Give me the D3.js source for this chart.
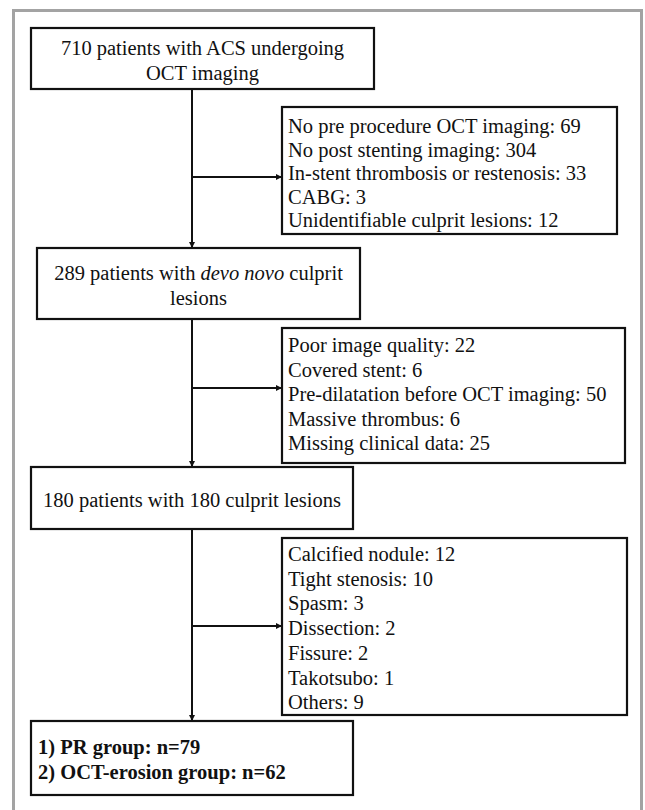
<!DOCTYPE html>
<html>
<head>
  <title>Study flowchart</title>
  <style>
    body {
      margin: 0;
      background: #fff;
    }
  </style>
</head>
<body>
  <div id="chart"></div>

  <script src="https://d3js.org/d3.v7.min.js"></script>
  <script>
    // Flow stages (each line is a list of [text, italic] pieces)
    const stageLines = [
      [[["710 patients with ACS undergoing", false]], [["OCT imaging", false]]],
      [[["289 patients with ", false], ["devo novo", true], [" culprit", false]], [["lesions", false]]],
      [[["180 patients with 180 culprit lesions", false]]]
    ];

    // Exclusions at each step
    const exclusion1Reasons = ["No pre procedure OCT imaging", "No post stenting imaging",
      "In-stent thrombosis or restenosis", "CABG: ", "Unidentifiable culprit lesions"];
    const exclusion1Counts = [69, 304, 33, 3, 12];

    const exclusion2Reasons = ["Poor image quality", "Covered stent",
      "Pre-dilatation before OCT imaging", "Massive thrombus", "Missing clinical data"];
    const exclusion2Counts = [22, 6, 50, 6, 25];

    const exclusion3Reasons = ["Calcified nodule", "Tight stenosis", "Spasm", "Dissection",
      "Fissure", "Takotsubo", "Others"];
    const exclusion3Counts = [12, 10, 3, 2, 2, 1, 9];

    // Final groups
    const groupNames = ["PR group", "OCT-erosion group"];
    const groupCounts = [79, 62];

    const width = 645;
    const height = 810;
    const FONT = "Liberation Serif";
    const SIZE = 20.5;

    const svg = d3.select("#chart")
      .append("svg")
      .attr("width", width)
      .attr("height", height);

    // Outer gray frame (runs off the bottom)
    svg.append("rect")
      .attr("x", 13.5)
      .attr("y", 10.5)
      .attr("width", 628)
      .attr("height", 900)
      .attr("fill", "none")
      .attr("stroke", "#a3a3a3")
      .attr("stroke-width", 3);

    // Box layout
    const stageBoxes = [
      { x: 31, y: 28, w: 343, h: 61, lineY: 48 },
      { x: 37, y: 248, w: 323, h: 71, lineY: 273 },
      { x: 31, y: 467, w: 322, h: 62, lineY: 500 }
    ];
    const exclBoxes = [
      { x: 282, y: 107, w: 335, h: 127, lineY: 126, step: 23.5, arrowY: 177, reasons: exclusion1Reasons, counts: exclusion1Counts },
      { x: 282, y: 328, w: 343, h: 135, lineY: 345, step: 24.5, arrowY: 388, reasons: exclusion2Reasons, counts: exclusion2Counts },
      { x: 282, y: 538, w: 345, h: 177, lineY: 554, step: 24.7, arrowY: 626, reasons: exclusion3Reasons, counts: exclusion3Counts }
    ];
    const groupBox = { x: 31, y: 721, w: 322, h: 74, lineY: 747, step: 25 };
    const spineX = 192;

    // Arrowhead marker
    svg.append("defs").append("marker")
      .attr("id", "arrow")
      .attr("viewBox", "0 0 10 10")
      .attr("refX", 10)
      .attr("refY", 5)
      .attr("markerWidth", 3.2)
      .attr("markerHeight", 3.2)
      .attr("markerUnits", "strokeWidth")
      .attr("orient", "auto")
      .append("path")
      .attr("d", "M0,0L10,5L0,10Z")
      .attr("fill", "#111");

    function drawBox(b) {
      svg.append("rect")
        .attr("x", b.x)
        .attr("y", b.y)
        .attr("width", b.w)
        .attr("height", b.h)
        .attr("fill", "#fff")
        .attr("stroke", "#111")
        .attr("stroke-width", 2.2);
    }

    function addText(x, y) {
      return svg.append("text")
        .attr("x", x)
        .attr("y", y)
        .attr("font-family", FONT)
        .attr("font-size", SIZE)
        .attr("fill", "#111");
    }

    // Vertical connectors
    const targets = [stageBoxes[1].y, stageBoxes[2].y, groupBox.y];
    const sources = stageBoxes.map(b => b.y + b.h);
    sources.forEach((s, i) => {
      svg.append("line")
        .attr("x1", spineX).attr("x2", spineX)
        .attr("y1", s).attr("y2", targets[i])
        .attr("stroke", "#111")
        .attr("stroke-width", 2)
        .attr("marker-end", "url(#arrow)");
    });

    // Horizontal arrows to exclusion boxes
    exclBoxes.forEach(b => {
      svg.append("line")
        .attr("x1", spineX).attr("x2", b.x)
        .attr("y1", b.arrowY).attr("y2", b.arrowY)
        .attr("stroke", "#111")
        .attr("stroke-width", 2)
        .attr("marker-end", "url(#arrow)");
    });

    // Stage boxes (baseline = line centre + 7)
    stageBoxes.forEach((b, i) => {
      drawBox(b);
      stageLines[i].forEach((pieces, j) => {
        const t = addText(b.x + b.w / 2, b.lineY + 7 + j * 24.5)
          .attr("text-anchor", "middle");
        pieces.forEach(p => {
          t.append("tspan")
            .attr("font-style", p[1] ? "italic" : "normal")
            .text(p[0]);
        });
      });
    });

    // Exclusion boxes
    exclBoxes.forEach(b => {
      drawBox(b);
      const y = d3.scaleLinear().domain([0, 1]).range([b.lineY + 7, b.lineY + 7 + b.step]);
      b.reasons.forEach((d, i) => {
        addText(b.x + 6, y(i))
          .text(d.endsWith(" ") ? `${d} ${b.counts[i]}` : `${d}: ${b.counts[i]}`);
      });
    });

    // Final groups
    drawBox(groupBox);
    groupNames.forEach((d, i) => {
      addText(groupBox.x + 7, groupBox.lineY + 7 + i * groupBox.step)
        .attr("font-weight", "bold")
        .text(`${i + 1}) ${d}: n=${groupCounts[i]}`);
    });
  </script>
</body>
</html>
